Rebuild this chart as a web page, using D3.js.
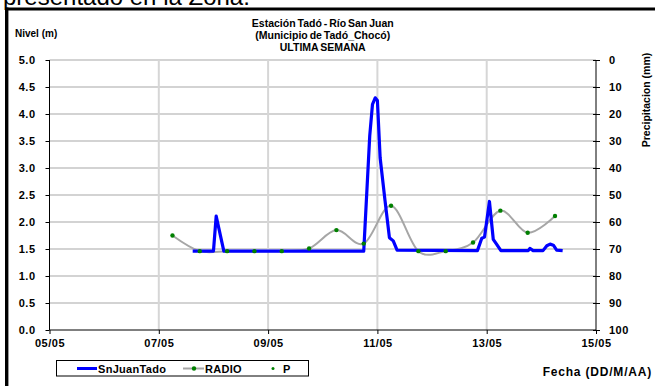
<!DOCTYPE html>
<html>
<head>
<meta charset="utf-8">
<script src="https://cdn.jsdelivr.net/npm/d3@7"></script>
<style>
  body { margin: 0; background: #fff; }
  svg { display: block; }
  text { font-family: Arial, "Liberation Sans", sans-serif; font-weight: bold; fill: #000; }
</style>
</head>
<body>
<svg id="chart" width="655" height="386"></svg>
<script>
// x axis: day of May
var dayTicks = [5, 7, 9, 11, 13, 15];
var dayLabels = ["05/05", "07/05", "09/05", "11/05", "13/05", "15/05"];
var levelTicks = [0, 0.5, 1, 1.5, 2, 2.5, 3, 3.5, 4, 4.5, 5];
var precipTicks = [0, 10, 20, 30, 40, 50, 60, 70, 80, 90, 100];

// SnJuanTado (nivel, m)
var snJuanDays = [7.62, 8.00, 8.05, 8.19, 10.75, 10.86, 10.91, 10.96, 11.00, 11.05, 11.14, 11.22, 11.29, 11.36,
                  12.83, 12.91, 12.96, 13.05, 13.12, 13.18, 13.26, 13.76, 13.79, 13.85, 14.03, 14.10, 14.16, 14.22, 14.28, 14.39];
var snJuanLevel = [1.46, 1.46, 2.11, 1.46, 1.46, 3.60, 4.18, 4.30, 4.25, 3.19, 2.39, 1.71, 1.65, 1.48,
                   1.47, 1.70, 1.72, 2.38, 1.68, 1.59, 1.47, 1.47, 1.51, 1.47, 1.47, 1.56, 1.59, 1.57, 1.48, 1.47];

// RADIO / P readings (nivel, m), twice a day
var radioDays = [7.25, 7.75, 8.25, 8.75, 9.25, 9.75, 10.25, 10.75, 11.25, 11.75, 12.25, 12.75, 13.25, 13.75, 14.25];
var radioLevel = [1.75, 1.46, 1.46, 1.46, 1.46, 1.51, 1.85, 1.60, 2.30, 1.46, 1.46, 1.62, 2.21, 1.80, 2.11];

var svg = d3.select("#chart");
var plotLeft = 49.5, plotRight = 596, plotTop = 60, plotBottom = 330;

var x = d3.scaleLinear().domain([5, 15]).range([plotLeft, plotRight]);
var y = d3.scaleLinear().domain([0, 5]).range([plotBottom, plotTop]);
var yP = d3.scaleLinear().domain([0, 100]).range([plotTop, plotBottom]);

// frame bits
svg.append("text").attr("x", 3).attr("y", 5)
  .style("font-weight", "normal").style("font-size", "24px")
  .text("presentado en la Zona.");
svg.append("line").attr("x1", 5).attr("x2", 655).attr("y1", 9).attr("y2", 9)
  .attr("stroke", "#000").attr("stroke-width", 3.2);
svg.append("line").attr("x1", 6.7).attr("x2", 6.7).attr("y1", 7.5).attr("y2", 386)
  .attr("stroke", "#000").attr("stroke-width", 3.4);

// gridlines
svg.append("g").selectAll("line").data(levelTicks.filter(function(d) { return d > 0; }))
  .enter().append("line")
  .attr("x1", plotLeft).attr("x2", plotRight)
  .attr("y1", function(d) { return y(d); }).attr("y2", function(d) { return y(d); })
  .attr("stroke", "#c4c4c4").attr("stroke-width", 1.3);
svg.append("g").selectAll("line").data(dayTicks.slice(1, -1))
  .enter().append("line")
  .attr("x1", function(d) { return x(d); }).attr("x2", function(d) { return x(d); })
  .attr("y1", plotTop).attr("y2", plotBottom)
  .attr("stroke", "#d6d6d6").attr("stroke-width", 2);

// axes
var gl = svg.append("g").attr("transform", "translate(" + plotLeft + ",0)")
  .call(d3.axisLeft(y).tickValues(levelTicks).tickFormat(d3.format(".1f")).tickSize(4).tickPadding(10));
gl.select(".domain").remove();
gl.append("line").attr("x1", 0).attr("x2", 0).attr("y1", plotTop).attr("y2", plotBottom).attr("stroke", "#000");

var gb = svg.append("g").attr("transform", "translate(0," + plotBottom + ")")
  .call(d3.axisBottom(x).tickValues(dayTicks).tickFormat(function(d, i) { return dayLabels[i]; })
    .tickSize(4).tickPadding(5));
gb.select(".domain").remove();
gb.append("line").attr("x1", plotLeft).attr("x2", plotRight).attr("stroke", "#000");

var gr = svg.append("g").attr("transform", "translate(" + plotRight + ",0)")
  .call(d3.axisRight(yP).tickValues(precipTicks).tickSize(4).tickPadding(9));
gr.select(".domain").remove();
gr.append("line").attr("x1", 0).attr("x2", 0).attr("y1", plotTop).attr("y2", plotBottom).attr("stroke", "#000");
gr.selectAll(".tick line").attr("x1", -3);

svg.selectAll(".tick text").style("font-size", "11px").style("font-family", "Arial, 'Liberation Sans', sans-serif")
  .style("font-weight", "bold").style("letter-spacing", "0.5px");
svg.selectAll(".tick line").attr("stroke", "#000");

// series
var radioLine = d3.line()
  .x(function(d, i) { return x(radioDays[i]); })
  .y(function(d) { return y(d); })
  .curve(d3.curveCardinal.tension(0));
svg.append("path").datum(radioLevel).attr("d", radioLine)
  .attr("fill", "none").attr("stroke", "#a6a6a6").attr("stroke-width", 2);

var snLine = d3.line()
  .x(function(d, i) { return x(snJuanDays[i]); })
  .y(function(d) { return y(d); });
svg.append("path").datum(snJuanLevel).attr("d", snLine)
  .attr("fill", "none").attr("stroke", "#0000ff").attr("stroke-width", 3.2)
  .attr("stroke-linejoin", "round");

svg.append("g").selectAll("circle").data(radioLevel).enter().append("circle")
  .attr("cx", function(d, i) { return x(radioDays[i]); })
  .attr("cy", function(d) { return y(d); })
  .attr("r", 2.2).attr("fill", "#008000");

// titles
var title = ["Estación Tadó - Río San Juan", "(Municipio de Tadó_Chocó)", "ULTIMA SEMANA"];
svg.append("g").selectAll("text").data(title).enter().append("text")
  .attr("x", (plotLeft + plotRight) / 2).attr("y", function(d, i) { return 27 + i * 12; })
  .attr("text-anchor", "middle").style("font-size", "10.5px").style("word-spacing", "-1px")
  .text(function(d) { return d; });

svg.append("text").attr("x", 15).attr("y", 37).style("font-size", "10px").text("Nivel (m)");
svg.append("text").attr("transform", "translate(650,100) rotate(-90)")
  .attr("text-anchor", "middle").style("font-size", "10.5px").text("Precipitacion (mm)");
svg.append("text").attr("x", 652).attr("y", 376).attr("text-anchor", "end")
  .style("font-size", "12px").style("letter-spacing", "0.8px").text("Fecha (DD/M/AA)");

// legend
var lg = svg.append("g");
lg.append("rect").attr("x", 56.5).attr("y", 360.5).attr("width", 252).attr("height", 15.5)
  .attr("fill", "#fff").attr("stroke", "#000");
lg.append("line").attr("x1", 77).attr("x2", 97).attr("y1", 368.5).attr("y2", 368.5)
  .attr("stroke", "#0000ff").attr("stroke-width", 3);
lg.append("text").attr("x", 98).attr("y", 372.5).style("font-size", "11px").style("letter-spacing", "0.3px").text("SnJuanTado");
lg.append("line").attr("x1", 183).attr("x2", 204).attr("y1", 368.5).attr("y2", 368.5)
  .attr("stroke", "#a6a6a6").attr("stroke-width", 2);
lg.append("circle").attr("cx", 194).attr("cy", 368.5).attr("r", 2.2).attr("fill", "#008000");
lg.append("text").attr("x", 205).attr("y", 372.5).style("font-size", "11px").style("letter-spacing", "0.3px").text("RADIO");
lg.append("circle").attr("cx", 273).attr("cy", 368.5).attr("r", 1.5).attr("fill", "#008000");
lg.append("text").attr("x", 283).attr("y", 372.5).style("font-size", "11px").text("P");
</script>
</body>
</html>
